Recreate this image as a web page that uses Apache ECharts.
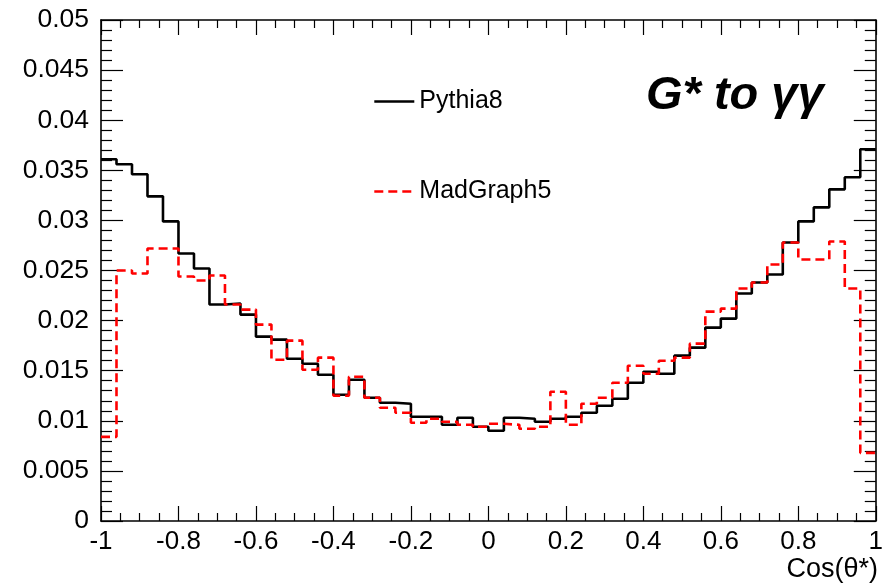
<!DOCTYPE html>
<html>
<head>
<meta charset="utf-8">
<script src="https://cdn.jsdelivr.net/npm/echarts@6/dist/echarts.min.js"></script>
<style>
html,body{margin:0;padding:0;background:#fff;}
#chart{width:886px;height:587px;}
</style>
</head>
<body>
<div id="chart"></div>
<script>
// Histogram binning: 50 bins from -1 to 1
var xMin = -1, xMax = 1, nBins = 50;
var xTicks = ['-1','-0.8','-0.6','-0.4','-0.2','0','0.2','0.4','0.6','0.8','1'];
var yTicks = ['0','0.005','0.01','0.015','0.02','0.025','0.03','0.035','0.04','0.045','0.05'];

var pythia8 = [
  0.0361, 0.0356, 0.0346, 0.0324, 0.0299, 0.0267, 0.0252, 0.0216, 0.0217, 0.0206,
  0.0184, 0.0181, 0.0162, 0.0157, 0.0146, 0.0126, 0.0141, 0.0123, 0.0118, 0.0117,
  0.0104, 0.0104, 0.0096, 0.0103, 0.0094, 0.0090, 0.0103, 0.0102, 0.0099, 0.0102,
  0.0104, 0.0108, 0.0115, 0.0122, 0.0138, 0.0149, 0.0147, 0.0165, 0.0173, 0.0193,
  0.0202, 0.0227, 0.0238, 0.0246, 0.0278, 0.0299, 0.0313, 0.0331, 0.0343, 0.0371
];
var madgraph5 = [
  0.0084, 0.0250, 0.0247, 0.0272, 0.0272, 0.0244, 0.0240, 0.0245, 0.0216, 0.0211,
  0.0196, 0.0161, 0.0180, 0.0151, 0.0163, 0.0125, 0.0144, 0.0123, 0.0113, 0.0108,
  0.0098, 0.0102, 0.0099, 0.0096, 0.0094, 0.0097, 0.0096, 0.0092, 0.0094, 0.0129,
  0.0096, 0.0117, 0.0123, 0.0138, 0.0155, 0.0147, 0.0160, 0.0163, 0.0177, 0.0209,
  0.0212, 0.0232, 0.0238, 0.0256, 0.0278, 0.0261, 0.0261, 0.0279, 0.0232, 0.0068
];

function histPoints(vals) {
  var w = (xMax - xMin) / nBins, pts = [];
  for (var i = 0; i < vals.length; i++) pts.push([xMin + i * w, vals[i]]);
  pts.push([xMax, vals[vals.length - 1]]);
  return pts;
}

var FONT = 'Liberation Sans, Arial, Helvetica, sans-serif';
var chart = echarts.init(document.getElementById('chart'), null, {renderer: 'canvas'});

var axisLine = {show: true, onZero: false, lineStyle: {color: '#000', width: 1.6}};

var option = {
  backgroundColor: '#fff',
  animation: false,
  title: {
    text: 'G* to γγ',
    left: 641, top: 68,
    textStyle: {fontFamily: FONT, fontSize: 47, fontWeight: 'bold', fontStyle: 'italic', color: '#000'}
  },
  legend: {
    orient: 'vertical',
    left: 368, top: 84,
    itemWidth: 40, itemHeight: 24, itemGap: 65,
    itemStyle: {opacity: 0},
    lineStyle: {width: 2.6},
    textStyle: {fontFamily: FONT, fontSize: 25, color: '#000', padding: [0, 0, 0, 0]},
    data: ['Pythia8', 'MadGraph5']
  },
  grid: {left: 101, right: 7, top: 20, bottom: 66, show: false},
  xAxis: [{
    type: 'value', min: -1, max: 1, interval: 0.2, position: 'bottom',
    axisLine: axisLine,
    axisTick: {show: true, inside: true, length: 15, lineStyle: {color: '#000', width: 1.2}},
    minorTick: {show: true, splitNumber: 4, length: 8, lineStyle: {color: '#000', width: 1.2}},
    splitLine: {show: false},
    axisLabel: {
      show: true, margin: 8, fontFamily: FONT, fontSize: 26, color: '#000',
      formatter: function (v) { return xTicks[Math.round((v + 1) / 0.2)]; }
    }
  }, {
    type: 'value', min: -1, max: 1, interval: 0.2, position: 'top',
    axisLine: axisLine,
    axisTick: {show: true, inside: true, length: 15, lineStyle: {color: '#000', width: 1.2}},
    minorTick: {show: true, splitNumber: 4, length: 8, lineStyle: {color: '#000', width: 1.2}},
    splitLine: {show: false},
    axisLabel: {show: false}
  }],
  yAxis: [{
    type: 'value', min: 0, max: 0.05, interval: 0.005, position: 'left',
    axisLine: axisLine,
    axisTick: {show: true, inside: true, length: 22, lineStyle: {color: '#000', width: 1.2}},
    minorTick: {show: true, splitNumber: 5, length: 11, lineStyle: {color: '#000', width: 1.2}},
    splitLine: {show: false},
    axisLabel: {
      show: true, margin: 12, fontFamily: FONT, fontSize: 26.5, color: '#000',
      formatter: function (v) { return yTicks[Math.round(v / 0.005)]; }
    }
  }, {
    type: 'value', min: 0, max: 0.05, interval: 0.005, position: 'right',
    axisLine: axisLine,
    axisTick: {show: true, inside: true, length: 22, lineStyle: {color: '#000', width: 1.2}},
    minorTick: {show: true, splitNumber: 5, length: 11, lineStyle: {color: '#000', width: 1.2}},
    splitLine: {show: false},
    axisLabel: {show: false}
  }],
  graphic: [{
    type: 'text', right: 8, top: 556,
    style: {text: 'Cos(θ*)', fontFamily: FONT, fontSize: 27, fill: '#000'}
  }],
  series: [{
    name: 'Pythia8', type: 'line', step: 'end', symbol: 'none',
    xAxisIndex: 0, yAxisIndex: 0,
    data: histPoints(pythia8),
    lineStyle: {color: '#000', width: 2.6, type: 'solid'},
    itemStyle: {color: '#000'},
    z: 3
  }, {
    name: 'MadGraph5', type: 'line', step: 'end', symbol: 'none',
    xAxisIndex: 0, yAxisIndex: 0,
    data: histPoints(madgraph5),
    lineStyle: {color: '#ff0000', width: 2.6, type: [9, 5]},
    itemStyle: {color: '#ff0000'},
    z: 4
  }]
};
chart.setOption(option);
</script>
</body>
</html>
